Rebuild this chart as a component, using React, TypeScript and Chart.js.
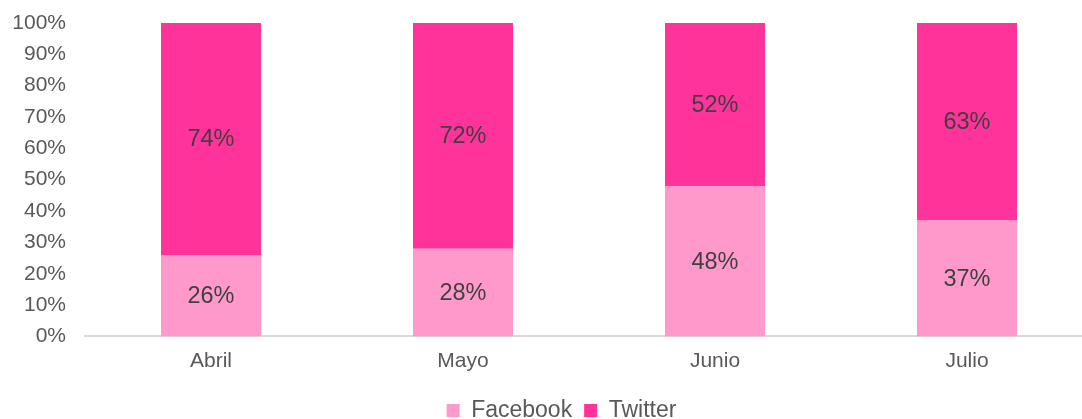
import React, { useEffect, useRef } from "react";
import { Chart, registerables } from "chart.js";

Chart.register(...registerables);

const categories = ["Abril", "Mayo", "Junio", "Julio"];
const facebookValues = [26, 28, 48, 37];
const twitterValues = [74, 72, 52, 63];
const yTickValues = [0, 10, 20, 30, 40, 50, 60, 70, 80, 90, 100];

const FONT = "'Liberation Sans', Arial, sans-serif";

const dataLabelPlugin = {
  id: "dataLabels",
  afterDatasetsDraw(chart: any) {
    const ctx = chart.ctx;
    ctx.save();
    ctx.font = `23.5px ${FONT}`;
    ctx.fillStyle = "#404040";
    ctx.textAlign = "center";
    ctx.textBaseline = "middle";
    chart.data.datasets.forEach((ds: any, i: number) => {
      const meta = chart.getDatasetMeta(i);
      meta.data.forEach((bar: any, j: number) => {
        const cy = (bar.y + bar.base) / 2;
        ctx.fillText(`${ds.data[j]}%`, bar.x, cy + 1);
      });
    });
    ctx.restore();
  },
};

const legendShiftPlugin = {
  id: "legendShift",
  afterLayout(chart: any) {
    if (chart.legend) {
      chart.legend.left += 15;
      chart.legend.right += 15;
    }
  },
};

export default function App() {
  const ref = useRef<HTMLCanvasElement>(null);
  useEffect(() => {
    if (!ref.current) return;
    const chart = new Chart(ref.current, {
      type: "bar",
      data: {
        labels: categories,
        datasets: [
          {
            label: "Facebook",
            data: facebookValues,
            backgroundColor: "#FF99CC",
            borderWidth: 0,
            categoryPercentage: 1,
            barPercentage: 100 / 252,
          },
          {
            label: "Twitter",
            data: twitterValues,
            backgroundColor: "#FF3399",
            borderWidth: 0,
            categoryPercentage: 1,
            barPercentage: 100 / 252,
          },
        ],
      },
      options: {
        responsive: false,
        animation: false,
        devicePixelRatio: 1,
        layout: { padding: { left: 0, right: 0, top: 23, bottom: 0 } },
        plugins: {
          tooltip: { enabled: false },
          legend: {
            position: "bottom",
            labels: {
              boxWidth: 13,
              boxHeight: 13,
              padding: 12,
              color: "#595959",
              font: { size: 23, family: FONT },
            },
          },
        },
        scales: {
          x: {
            stacked: true,
            grid: { display: false, drawTicks: false },
            border: { display: true, color: "#D9D9D9", width: 2 },
            afterFit: (scale: any) => {
              scale.height = 50.6;
            },
            ticks: {
              color: "#595959",
              font: { size: 21, family: FONT },
              padding: 12,
            },
          },
          y: {
            stacked: true,
            min: 0,
            max: 100,
            afterBuildTicks: (scale: any) => {
              scale.ticks = yTickValues.map((v) => ({ value: v }));
            },
            afterFit: (scale: any) => {
              scale.width = 85;
            },
            grid: { display: false, drawTicks: true, tickLength: 15 },
            border: { display: false },
            ticks: {
              color: "#595959",
              font: { size: 21, family: FONT },
              padding: 4,
              callback: (v: any) => `${v}%`,
            },
          },
        },
      },
      plugins: [dataLabelPlugin, legendShiftPlugin],
    });
    return () => chart.destroy();
  }, []);
  return (
    <div style={{ position: "fixed", left: 0, top: 0 }}>
      <canvas ref={ref} width={1093} height={432} />
    </div>
  );
}
